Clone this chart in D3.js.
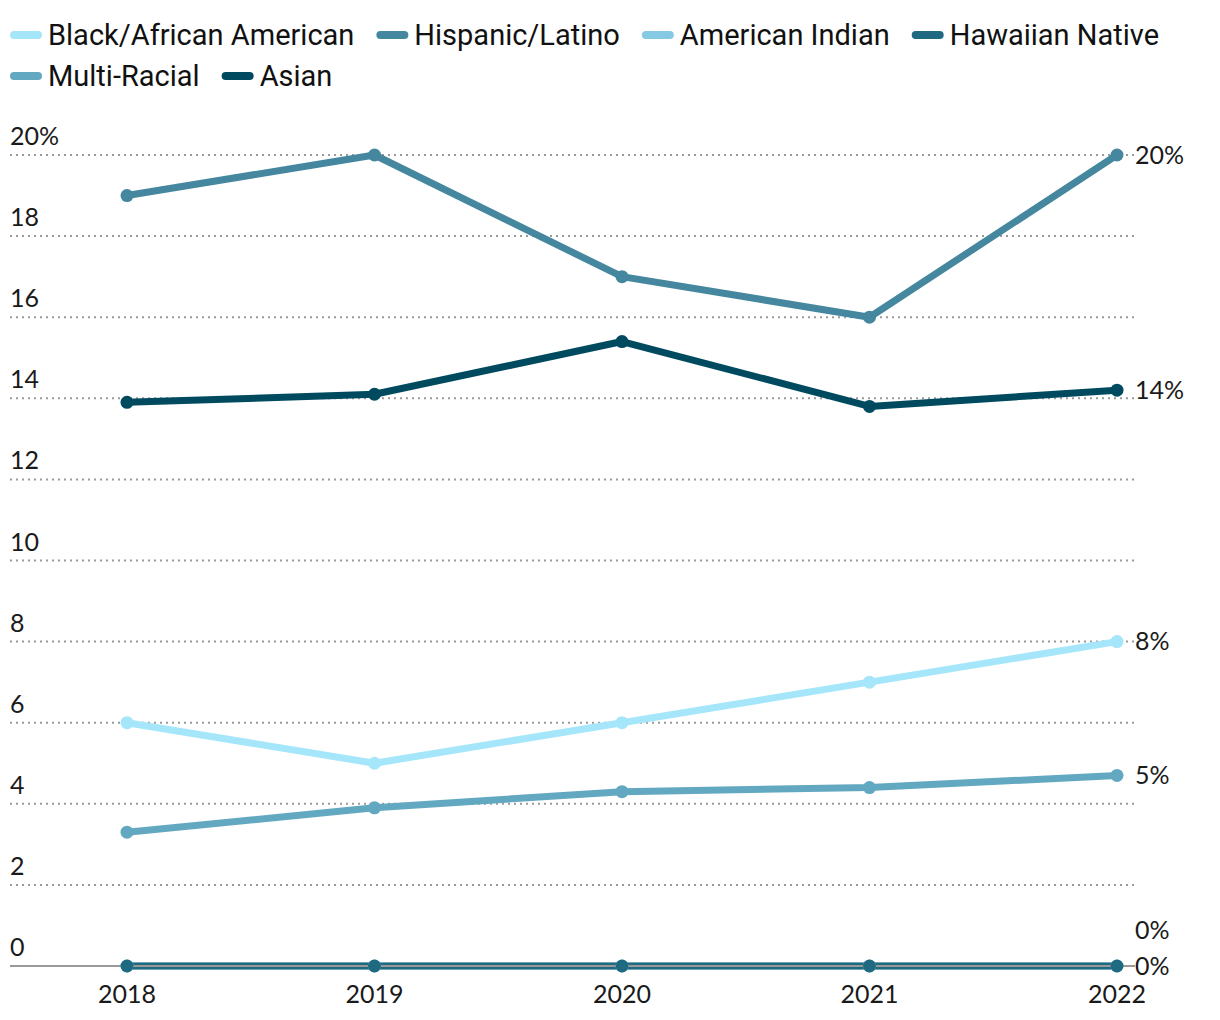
<!DOCTYPE html>
<html><head><meta charset="utf-8">
<script src="https://cdn.jsdelivr.net/npm/d3@7"></script>
<style>
body{margin:0;background:#fff;}
svg{display:block;}
.tick-lbl{font-family:Lato,"Open Sans",sans-serif;font-weight:400;font-size:25px;fill:#1a1a1a;}
.leg{font-family:"Liberation Sans Narrow","Roboto",sans-serif;font-size:29px;fill:#111;}
</style></head>
<body><svg id="c" width="1220" height="1020"></svg>
<script>
const years = [2018, 2019, 2020, 2021, 2022];
const seriesNames = ["Black/African American","Hispanic/Latino","American Indian","Hawaiian Native","Multi-Racial","Asian"];
const seriesColors = ["#a6e6fb","#44879f","#86c9e2","#1f6981","#63a8c1","#004a60"];
const black = [6, 5, 6, 7, 8];
const hispanic = [19, 20, 17, 16, 20];
const amIndian = [0, 0, 0, 0, 0];
const hawaiian = [0, 0, 0, 0, 0];
const multi = [3.3, 3.9, 4.3, 4.4, 4.7];
const asian = [13.9, 14.1, 15.4, 13.8, 14.2];
const endLabels = ["8%","20%","0%","0%","5%","14%"];
const yTicks = [0,2,4,6,8,10,12,14,16,18,20];

const values = [black, hispanic, amIndian, hawaiian, multi, asian];
const svg = d3.select("#c");
const x = d3.scalePoint().domain(years).range([127, 1117]);
const y = d3.scaleLinear().domain([0, 20]).range([966, 155]);

// grid
svg.append("g").selectAll("line").data(yTicks.filter(d=>d>0)).join("line")
  .attr("x1",10).attr("x2",1135).attr("y1",d=>y(d)).attr("y2",d=>y(d))
  .attr("stroke","#9a9a9a").attr("stroke-width",2).attr("stroke-dasharray","2,4");
svg.append("g").selectAll("text").data(yTicks).join("text")
  .attr("class","tick-lbl").attr("x",10).attr("y",d=>y(d)-10)
  .text(d=>d===20? d+"%" : d);

// x labels
svg.append("g").selectAll("text").data(years).join("text")
  .attr("class","tick-lbl").attr("x",d=>x(d)).attr("y",1003).attr("text-anchor","middle")
  .text(d=>d);

const line = d3.line().x((d,i)=>x(years[i])).y(d=>y(d));
const order = [0,1,2,4,5,3];
order.forEach(k=>{
  svg.append("path").datum(values[k]).attr("d",line).attr("fill","none")
    .attr("stroke",seriesColors[k]).attr("stroke-width",7).attr("stroke-linejoin","round");
});
// baseline
svg.append("line").attr("x1",10).attr("x2",1135).attr("y1",y(0)).attr("y2",y(0))
  .attr("stroke","#999").attr("stroke-width",2);
order.forEach(k=>{
  svg.append("g").selectAll("circle").data(values[k]).join("circle")
    .attr("cx",(d,i)=>x(years[i])).attr("cy",d=>y(d)).attr("r",6.5).attr("fill",seriesColors[k]);
});

// end labels with simple collision avoidance
const labs = values.map((v,k)=>({k, y:y(v[v.length-1])}));
labs.sort((a,b)=>b.y-a.y);
for(let i=1;i<labs.length;i++){ if(labs[i-1].y-labs[i].y<36) labs[i].y = labs[i-1].y-36; }
svg.append("g").selectAll("text").data(labs).join("text")
  .attr("class","tick-lbl").attr("x",1135).attr("y",d=>d.y).attr("dy","0.35em")
  .text(d=>endLabels[d.k]);

// legend
const leg = svg.append("g");
let lx = 10, ly = 35;
seriesNames.forEach((n,k)=>{
  const g = leg.append("g");
  const t = g.append("text").attr("class","leg").attr("x",lx+38).attr("y",ly).attr("dy","0.35em").text(n);
  const w = t.node().getComputedTextLength();
  if(lx+38+w > 1200){ lx = 10; ly += 41; t.attr("x",lx+38).attr("y",ly); }
  g.insert("line","text").attr("x1",lx+4).attr("x2",lx+28).attr("y1",ly).attr("y2",ly)
    .attr("stroke",seriesColors[k]).attr("stroke-width",8).attr("stroke-linecap","round");
  lx += 38 + w + 22;
});
</script></body></html>
